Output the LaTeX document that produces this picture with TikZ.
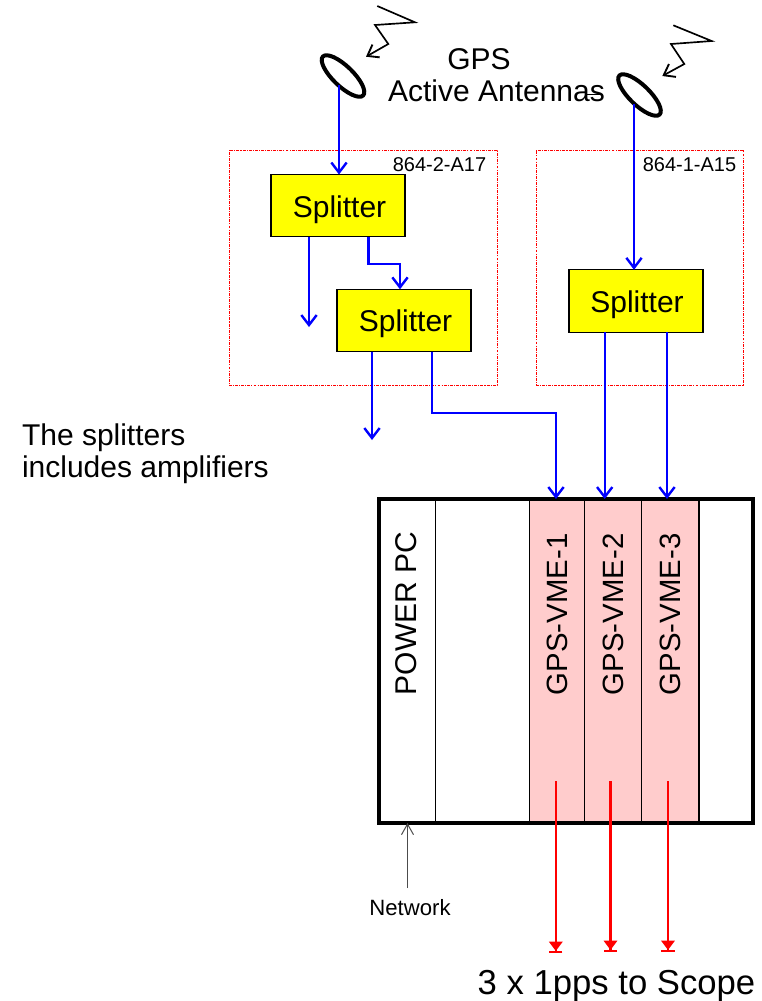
\documentclass[tikz,border=0pt]{standalone}
\usepackage{fontspec}
\setmainfont{Liberation Sans}
\usetikzlibrary{arrows.meta,shapes.geometric}
\begin{document}
\begin{tikzpicture}[x=0.75pt,y=-0.75pt,inner sep=0pt,outer sep=0pt,
  txtbig/.style={font=\fontsize{22.5pt}{26pt}\selectfont,anchor=base},
  txtsmall/.style={font=\fontsize{15pt}{18pt}\selectfont,anchor=base},
  txtnet/.style={font=\fontsize{16.6pt}{20pt}\selectfont,anchor=base},
  txtvme/.style={font=\fontsize{22pt}{26pt}\selectfont,rotate=90,anchor=base west},
  txtscope/.style={font=\fontsize{26pt}{30pt}\selectfont,anchor=base},
  splitbox/.style={draw=black,line width=0.85pt,fill=pureyellow,minimum width=100.5pt,minimum height=46.8pt},
  cabinet/.style={draw=purered,line width=0.65pt,dash pattern=on 2.2pt off 0.8pt on 0.8pt off 0.8pt},
  slotplain/.style={draw=black,line width=0.8pt,minimum height=243pt},
  slotpink/.style={slotplain,fill=pinkfill},
  antenna/.style={draw=black,line width=3pt,ellipse,rotate=-44,minimum width=42pt,minimum height=15pt},
  bluewire/.style={draw=wireblue,line width=1.6pt,line join=miter},
  bluetip/.style={-{Straight Barb[length=7.5pt,width=11.5pt,line width=1.8pt]}},
  redwire/.style={draw=purered,line width=1.6pt,-{Triangle[length=7pt,width=10pt,fill=purered]Bar[width=10pt,line width=1.5pt]}},
  bolt/.style={draw=black,line width=1.25pt,line join=miter,-{Straight Barb[length=7.5pt,width=11pt,line width=1.4pt]}},
  netwire/.style={draw=black!70,line width=0.75pt,-{Straight Barb[length=8pt,width=9pt,line width=0.75pt]}}]
\definecolor{pinkfill}{HTML}{FFCCCC}
\definecolor{wireblue}{HTML}{0000FF}
\definecolor{pureyellow}{HTML}{FFFF00}
\definecolor{purered}{HTML}{FF0000}
\useasboundingbox (0,0) rectangle (762,1001);

% cabinets
\node[cabinet,minimum width=201pt,minimum height=176.2pt] (cab1) at (363,267.5) {};
\node[cabinet,minimum width=155.2pt,minimum height=176.2pt] (cab2) at (639.5,267.5) {};
\node[txtsmall] (cab1label) at (439.5,171) {864-2-A17};
\node[txtsmall] (cab2label) at (689.5,171) {864-1-A15};

% splitters
\node[splitbox] (s1) at (338,205.7) {};
\node[splitbox] (s2) at (404,320.5) {};
\node[splitbox] (s3) at (636,301) {};
\node[txtbig] (s1t) at (339.5,217) {Splitter};
\node[txtbig] (s2t) at (405.5,331) {Splitter};
\node[txtbig] (s3t) at (637,312) {Splitter};

% rack slots
\node[slotplain,minimum width=41.6pt] (ppc) at (407.7,661) {};
\node[slotplain,minimum width=70.5pt] (empty) at (482.5,661) {};
\node[slotpink,minimum width=41pt] (vme1) at (556.8,661) {};
\node[slotpink,minimum width=43pt] (vme2) at (612.8,661) {};
\node[slotpink,minimum width=43pt] (vme3) at (670.3,661) {};
\node[draw=black,line width=3pt,minimum width=280pt,minimum height=243pt] (rack) at (566,661) {};

\node[txtbig,rotate=90,anchor=base west] (ppct) at (416,695) {POWER PC};
\node[txtvme] (v1t) at (567,695) {GPS-VME-1};
\node[txtvme] (v2t) at (623,695) {GPS-VME-2};
\node[txtvme] (v3t) at (680.7,695) {GPS-VME-3};

% antennas and signals
\node[antenna] (ant1) at (343,76) {};
\node[antenna] (ant2) at (639.5,95) {};
\coordinate (a1tap) at (339,85);
\coordinate (a2tap) at (634,104);
\draw[bluewire,bluetip] (a1tap) -- (a1tap |- s1.north);
\draw[bluewire,bluetip] (a2tap) -- (a2tap |- s3.north);
\draw[bolt] (377.3,6) -- (415,22.3) -- (375,25) -- (388.3,44) -- (366,56.7);
\draw[bolt] (673.3,25.3) -- (711.7,41) -- (671,44) -- (684.3,64) -- (662.3,76);
\coordinate (lead1) at (587,94);
\coordinate (lead2) at (603,94);
\draw[black,line width=0.7pt] (lead1) -- (lead2);

\node[txtbig] (gps) at (479,69.5) {GPS};
\node[txtbig] (active) at (496.5,101.5) {Active Antennas};

% free ends
\coordinate (o1) at (309,327);
\coordinate (o2) at (372,440);
\coordinate (b1) at (368.5,264);
\coordinate (b2) at (400,264);
\coordinate (b3) at (431.7,413);
\coordinate (b4) at (556,413);
\coordinate (c2) at (604.7,332);
\coordinate (c3) at (667,332);

\draw[bluewire,bluetip] (o1 |- s1.south) -- (o1);
\draw[bluewire,bluetip] (b1 |- s1.south) -- (b1) -- (b2) -- (b2 |- s2.north);
\draw[bluewire,bluetip] (o2 |- s2.south) -- (o2);
\draw[bluewire,bluetip] (b3 |- s2.south) -- (b3) -- (b4) -- (b4 |- rack.north);
\draw[bluewire,bluetip] (c2 |- s3.south) -- (c2 |- rack.north);
\draw[bluewire,bluetip] (c3 |- s3.south) -- (c3 |- rack.north);

% outputs
\coordinate (r1) at (555.8,781);
\coordinate (r2) at (610.5,781);
\coordinate (r3) at (668,781);
\coordinate (rend1) at (555.8,953);
\coordinate (rend2) at (610.5,952);
\coordinate (rend3) at (668,952);
\draw[redwire] (r1) -- (rend1);
\draw[redwire] (r2) -- (rend2);
\draw[redwire] (r3) -- (rend3);
\coordinate (net) at (407.5,888);
\draw[netwire] (net) -- (net |- rack.south);

% labels
\node[txtnet] (netl) at (410,915.5) {Network};
\node[txtbig,anchor=base west] (note1) at (22,445.5) {The splitters};
\node[txtbig,anchor=base west] (note2) at (22,477) {includes amplifiers};
\node[txtscope] (scope) at (616.5,994) {3 x 1pps to Scope};
\end{tikzpicture}
\end{document}
